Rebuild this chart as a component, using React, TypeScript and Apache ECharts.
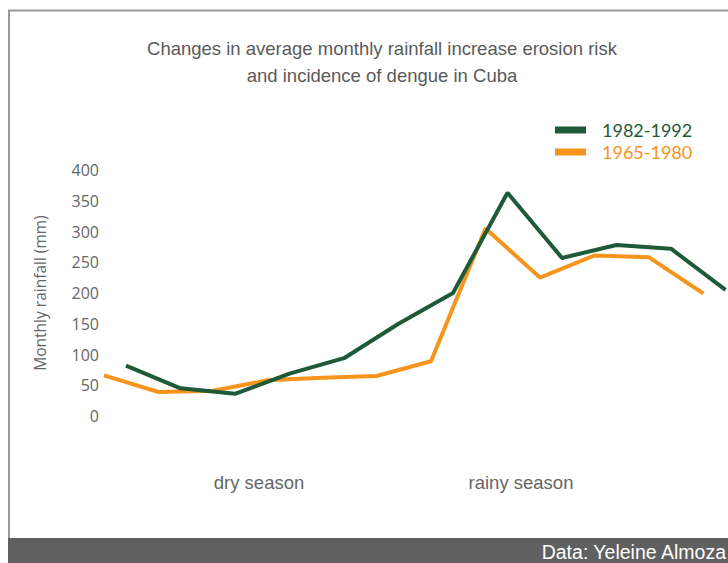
import React, { useEffect, useRef } from "react";
import * as echarts from "echarts";

const months = ["Jan", "Feb", "Mar", "Apr", "May", "Jun", "Jul", "Aug", "Sep", "Oct", "Nov", "Dec"];
const seasons = ["dry season", "rainy season"];
const rain1982to1992 = [82, 45, 36, 69, 94, 150, 200, 363, 257, 278, 272, 205];
const rain1965to1980 = [66, 39, 41, 58, 62, 65, 89, 305, 225, 261, 258, 199];
const yTicks = { min: 0, max: 400, interval: 50 };

const GREEN = "#1e5a3a";
const ORANGE = "#f7941d";
const GREY = "#666666";

export default function App() {
  const ref = useRef<HTMLDivElement>(null);
  useEffect(() => {
    const chart = echarts.init(ref.current!, undefined, { renderer: "svg" });
    const top = 170;
    const bottom = 563 - 416;
    chart.setOption({
      animation: false,
      backgroundColor: "#ffffff",
      title: {
        text: "Changes in average monthly rainfall increase erosion risk\nand incidence of dengue in Cuba",
        left: 377,
        top: 30,
        textAlign: "center",
        textStyle: {
          fontFamily: "Liberation Sans",
          fontWeight: "normal",
          fontSize: 18.5,
          lineHeight: 27,
          color: "#5a5a5a",
        },
      },
      legend: {
        orient: "vertical",
        left: 555,
        top: 121,
        padding: 0,
        itemWidth: 31,
        itemHeight: 7,
        itemGap: 4,
        icon: "rect",
        data: [
          { name: "1982-1992", textStyle: { color: GREEN } },
          { name: "1965-1980", textStyle: { color: ORANGE } },
        ],
        textStyle: {
          fontFamily: "Lato",
          fontSize: 18,
          lineHeight: 18,
          padding: [0, 0, 0, 11],
        },
      },
      grid: [
        { left: 104, right: 24.5, top, bottom },
        { left: 126, right: 2.5, top, bottom },
        { left: 128, width: 524, top, bottom },
      ],
      xAxis: [
        { type: "category", gridIndex: 0, data: months, boundaryGap: false, show: false },
        { type: "category", gridIndex: 1, data: months, boundaryGap: false, show: false },
        {
          type: "category",
          gridIndex: 2,
          data: seasons,
          axisLine: { show: false },
          axisTick: { show: false },
          axisLabel: {
            margin: 57,
            fontFamily: "Liberation Sans",
            fontSize: 18.5,
            color: GREY,
          },
        },
      ],
      yAxis: [
        {
          type: "value",
          gridIndex: 0,
          ...yTicks,
          name: "Monthly rainfall (mm)",
          nameLocation: "middle",
          nameGap: 56,
          nameTextStyle: { fontFamily: "Open Sans", fontSize: 15.5, color: GREY },
          axisLine: { show: false },
          axisTick: { show: false },
          splitLine: { show: false },
          axisLabel: { margin: 5, fontFamily: "Open Sans", fontSize: 16, color: GREY },
        },
        { type: "value", gridIndex: 1, ...yTicks, show: false, splitLine: { show: false } },
        { type: "value", gridIndex: 2, ...yTicks, show: false, splitLine: { show: false } },
      ],
      series: [
        {
          name: "1965-1980",
          type: "line",
          xAxisIndex: 0,
          yAxisIndex: 0,
          data: rain1965to1980,
          symbol: "none",
          clip: false,
          color: ORANGE,
          lineStyle: { width: 4, color: ORANGE },
        },
        {
          name: "1982-1992",
          type: "line",
          xAxisIndex: 1,
          yAxisIndex: 1,
          data: rain1982to1992,
          symbol: "none",
          clip: false,
          color: GREEN,
          lineStyle: { width: 4, color: GREEN },
        },
      ],
      graphic: [
        {
          type: "polyline",
          shape: { points: [[9, 538], [9, 10.5], [728, 10.5]] },
          style: { stroke: "#999999", lineWidth: 2, fill: null },
          silent: true,
        },
        {
          type: "rect",
          shape: { x: 8, y: 538, width: 720, height: 25 },
          style: { fill: "#5f605f" },
          silent: true,
        },
        {
          type: "text",
          x: 726,
          y: 552,
          style: {
            text: "Data: Yeleine Almoza",
            align: "right",
            verticalAlign: "middle",
            fill: "#ffffff",
            fontFamily: "Liberation Sans",
            fontSize: 19.5,
          },
          silent: true,
        },
      ],
    });
    return () => chart.dispose();
  }, []);
  return (
    <div
      ref={ref}
      style={{ position: "absolute", left: 0, top: 0, width: 728, height: 563 }}
    />
  );
}
